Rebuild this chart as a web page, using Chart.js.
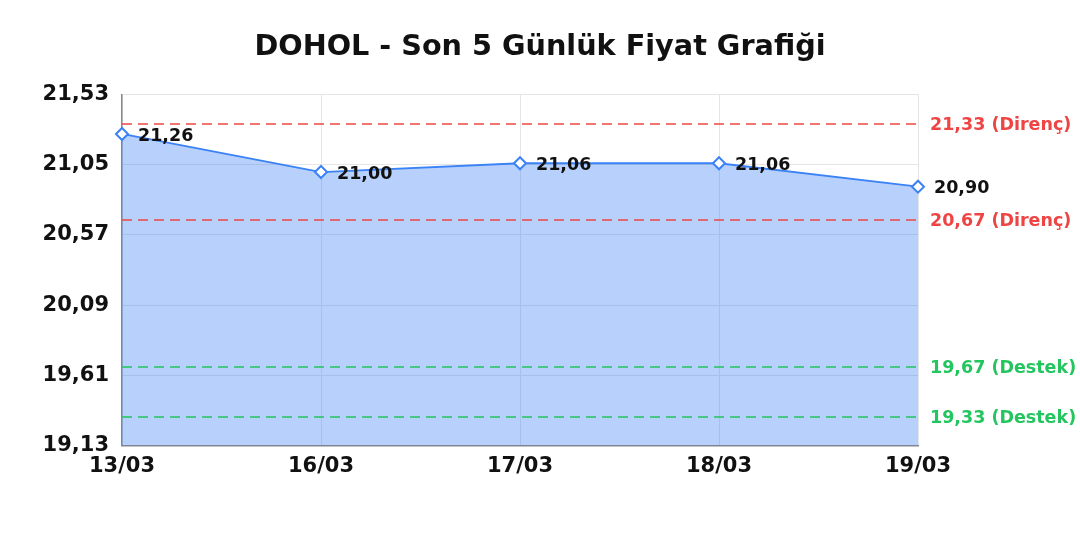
<!DOCTYPE html>
<html>
<head>
<meta charset="utf-8">
<script src="https://cdn.jsdelivr.net/npm/chart.js@4"></script>
<style>
  html, body { margin: 0; padding: 0; background: #fff; }
  #wrap { width: 1080px; height: 540px; }
</style>
</head>
<body>
<div id="wrap"><canvas id="chart"></canvas></div>
<script>
// Data
const labels = ['13/03', '16/03', '17/03', '18/03', '19/03'];
const prices = [21.26, 21.00, 21.06, 21.06, 20.90];
const yTicks = [19.13, 19.61, 20.09, 20.57, 21.05, 21.53];
const resistance = [21.33, 20.67];
const support = [19.67, 19.33];

const FONT = '"DejaVu Sans", sans-serif';
const fmt = v => v.toFixed(2).replace('.', ',');

// draw support / resistance lines and point labels
const levelsPlugin = {
  id: 'levels',
  afterDatasetsDraw(chart) {
    const ctx = chart.ctx;
    const area = chart.chartArea;
    const y = chart.scales.y;
    const lines = resistance.map(v => ({ v, color: '#ef4444', text: fmt(v) + ' (Direnç)' }))
      .concat(support.map(v => ({ v, color: '#22c55e', text: fmt(v) + ' (Destek)' })));
    ctx.save();
    lines.forEach(l => {
      const py = Math.round(y.getPixelForValue(l.v));
      ctx.strokeStyle = l.color;
      ctx.lineWidth = 1.5;
      ctx.setLineDash([10, 6]);
      ctx.beginPath();
      ctx.moveTo(area.left, py);
      ctx.lineTo(area.right, py);
      ctx.stroke();
      ctx.setLineDash([]);
      ctx.fillStyle = l.color;
      ctx.font = 'bold 17.5px ' + FONT;
      ctx.textBaseline = 'middle';
      ctx.textAlign = 'left';
      ctx.fillText(l.text, area.right + 12, py + 1);
    });

    // value labels next to the points
    const meta = chart.getDatasetMeta(0);
    ctx.fillStyle = '#111';
    ctx.font = 'bold 17.5px ' + FONT;
    ctx.textBaseline = 'middle';
    meta.data.forEach((pt, i) => {
      ctx.fillText(fmt(prices[i]), pt.x + 16, pt.y + 2);
    });
    ctx.restore();
  }
};

new Chart(document.getElementById('chart'), {
  type: 'line',
  data: {
    labels,
    datasets: [{
      data: prices,
      borderColor: '#3b82f6',
      borderWidth: 1.8,
      backgroundColor: 'rgba(59,130,246,0.37)',
      fill: 'start',
      tension: 0,
      pointStyle: 'rectRot',
      pointRadius: 6,
      pointBorderWidth: 2,
      pointBackgroundColor: '#fff',
      pointBorderColor: '#3b82f6'
    }]
  },
  options: {
    responsive: true,
    maintainAspectRatio: false,
    animation: false,
    layout: { padding: { left: 0, right: 0, top: 16, bottom: 53 } },
    plugins: {
      legend: { display: false },
      tooltip: { enabled: false },
      title: {
        display: true,
        text: 'DOHOL - Son 5 Günlük Fiyat Grafiği',
        color: '#111',
        font: { family: FONT, size: 28.7, weight: 'bold' },
        padding: { top: 14, bottom: 30 }
      }
    },
    scales: {
      x: {
        grid: { color: '#e5e5e5', drawTicks: false },
        border: { color: '#888', width: 1.5 },
        ticks: { color: '#111', padding: 8, font: { family: FONT, size: 21, weight: 'bold' }, maxRotation: 0 }
      },
      y: {
        min: 19.13,
        max: 21.53,
        afterBuildTicks: s => { s.ticks = yTicks.map(v => ({ value: v })); },
        afterFit: s => { s.width = 122; },
        grid: { color: '#e5e5e5', drawTicks: false },
        border: { color: '#888', width: 1.5 },
        ticks: {
          color: '#111',
          padding: 13,
          font: { family: FONT, size: 21, weight: 'bold' },
          callback: v => fmt(v)
        }
      },
      yRight: {
        position: 'right',
        display: true,
        afterFit: s => { s.width = 162; },
        grid: { display: false },
        border: { display: false },
        ticks: { display: false }
      }
    }
  },
  plugins: [levelsPlugin]
});
</script>
</body>
</html>
